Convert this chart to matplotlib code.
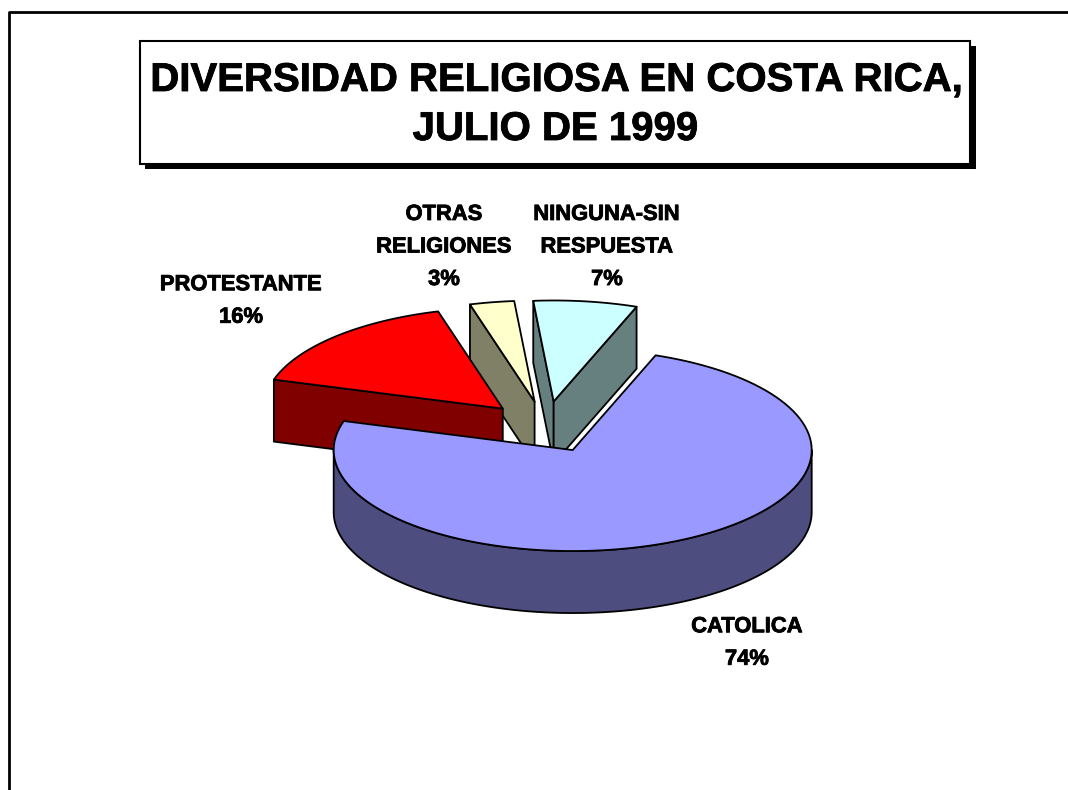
import numpy as np
import matplotlib as mpl
mpl.use('Agg')
import matplotlib.pyplot as plt
import matplotlib.patheffects as pe
from matplotlib.patches import Rectangle

plt.rcParams['font.family'] = ['Liberation Sans', 'DejaVu Sans']

title_lines = ['DIVERSIDAD RELIGIOSA EN COSTA RICA,', 'JULIO DE 1999']
names = ['CATOLICA', 'PROTESTANTE', 'OTRAS\nRELIGIONES', 'NINGUNA-SIN\nRESPUESTA']
shares = [74, 16, 3, 7]

top_colors = ['#9999ff', '#ff0000', '#ffffcc', '#ccffff']
side_colors = ['#4d4d80', '#800000', '#808066', '#668080']
label_pos = [(747, 643), (241, 301), (444, 247), (607, 247)]

# pie geometry in image pixels
cx, cy = 545.5, 427
rx, ry = 239, 101
depth = 62
explode = 0.255
start = 69.7

W, H = 1068, 790
fig = plt.figure(figsize=(W / 100, H / 100), dpi=100)
ax = fig.add_axes([0, 0, 1, 1])
ax.set_xlim(0, W)
ax.set_ylim(H, 0)
ax.axis('off')

# the source text is heavier than plain bold
heavy = [pe.withStroke(linewidth=0.6, foreground='black')]

# frame of the slide, only top and left show
ax.plot([9, 9, W], [H, 12, 12], color='black', lw=2, solid_capstyle='butt')

# title box with its shadow
ax.add_patch(Rectangle((145, 46), 831, 123, fc='black', ec='none'))
ax.add_patch(Rectangle((140, 41), 830, 123, fc='white', ec='black', lw=1.5))
ax.text(556, 80, title_lines[0], ha='center', va='center', fontsize=28.9, fontweight='bold',
        path_effects=heavy)
ax.text(555, 129, title_lines[1], ha='center', va='center', fontsize=28.9, fontweight='bold',
        path_effects=heavy)


def arc(ox, oy, a0, a1):
    t = np.radians(np.linspace(a0, a1, 120))
    return ox + rx * np.cos(t), oy - ry * np.sin(t)


def wall(xs, ys, color):
    # vertical face hanging below a top edge
    px = np.r_[xs, xs[::-1]]
    py = np.r_[ys, ys[::-1] + depth]
    ax.fill(px, py, fc=color, ec='black', lw=1.3, joinstyle='round')


def cut(ox, oy, a, color):
    p = np.radians(a)
    wall(np.array([ox, ox + rx * np.cos(p)]), np.array([oy, oy - ry * np.sin(p)]), color)


# slice angles run clockwise from the start angle
bounds = start - np.cumsum([0] + shares) * 3.6
slices = []
for i in range(len(shares)):
    a0, a1 = bounds[i], bounds[i + 1]
    mid = np.radians((a0 + a1) / 2)
    ox = cx + explode * rx * np.cos(mid)
    oy = cy - explode * ry * np.sin(mid)
    slices.append((ox, oy, a0, a1))

for i in [2, 3, 1, 0]:
    ox, oy, a0, a1 = slices[i]
    if i == 0:
        # outer wall of the big slice, front half only
        xs, ys = arc(ox, oy, 0, -180)
        wall(xs, ys, side_colors[i])
    else:
        # only faces turned to the viewer
        cut(ox, oy, a0, side_colors[i])
        if i == 3:
            cut(ox, oy, a1, side_colors[i])
    px, py = arc(ox, oy, a0, a1)
    ax.fill(np.r_[ox, px], np.r_[oy, py], fc=top_colors[i], ec='black', lw=1.3, joinstyle='round')

for i in range(len(names)):
    ax.text(label_pos[i][0], label_pos[i][1], f'{names[i]}\n{shares[i]}%', ha='center', va='center',
            fontsize=15.8, fontweight='bold', linespacing=1.72, path_effects=heavy)

plt.savefig('out.png', dpi=100)
